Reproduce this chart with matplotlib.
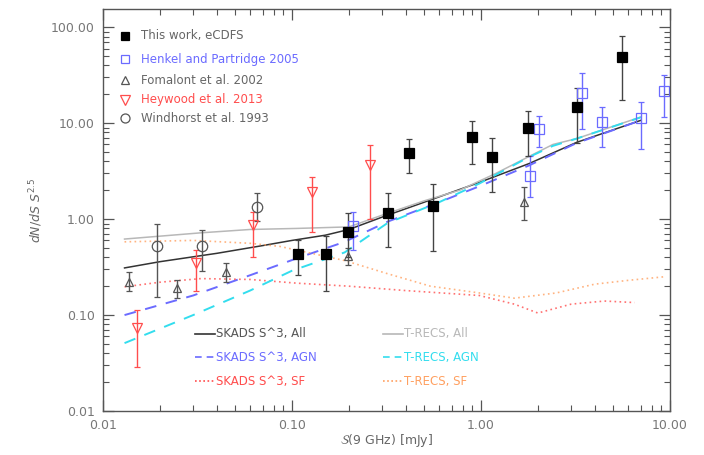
import numpy as np
import matplotlib
matplotlib.use("Agg")
import matplotlib.pyplot as plt
from matplotlib.ticker import FixedLocator, FuncFormatter, LogLocator, NullFormatter

# ---------------- data ----------------
# This work, eCDFS
tw_x = [0.107, 0.151, 0.199, 0.324, 0.416, 0.56, 0.90, 1.14, 1.78, 3.24, 5.6]
tw_y = [0.43, 0.43, 0.73, 1.17, 4.9, 1.38, 7.1, 4.46, 8.9, 14.6, 49.0]
tw_lo = [0.26, 0.178, 0.40, 0.51, 3.0, 0.46, 3.8, 1.9, 4.5, 6.2, 17.4]
tw_hi = [0.60, 0.66, 1.15, 1.87, 6.8, 2.3, 10.5, 7.0, 13.4, 23.0, 82.0]

# Henkel and Partridge 2005
hp_x = [0.21, 1.82, 2.03, 3.41, 4.38, 7.0, 9.3]
hp_y = [0.85, 2.8, 8.8, 20.4, 10.2, 11.2, 21.7]
hp_lo = [0.48, 1.7, 5.7, 8.7, 5.6, 5.4, 11.5]
hp_hi = [1.2, 4.5, 11.9, 33.0, 14.8, 16.7, 31.6]

# Fomalont et al. 2002
fo_x = [0.0138, 0.0245, 0.0448, 0.199, 1.69]
fo_y = [0.22, 0.19, 0.28, 0.41, 1.51]
fo_lo = [0.18, 0.15, 0.22, 0.33, 0.98]
fo_hi = [0.28, 0.23, 0.35, 0.50, 2.14]

# Heywood et al. 2013
hw_x = [0.0152, 0.031, 0.062, 0.128, 0.259]
hw_y = [0.073, 0.35, 0.87, 1.92, 3.65]
hw_lo = [0.029, 0.18, 0.40, 0.74, 1.0]
hw_hi = [0.113, 0.48, 1.2, 2.75, 5.9]

# Windhorst et al. 1993
wh_x = [0.0194, 0.0333, 0.065]
wh_y = [0.52, 0.52, 1.34]
wh_lo = [0.153, 0.29, 0.95]
wh_hi = [0.89, 0.77, 1.88]

# Models
sk_all_x = [0.013, 0.02, 0.04, 0.07, 0.1, 0.15, 0.2, 0.3, 0.5, 1.0, 1.8, 3.2, 7.0]
sk_all_y = [0.31, 0.36, 0.44, 0.53, 0.60, 0.68, 0.78, 1.05, 1.5, 2.45, 3.8, 6.3, 10.7]

sk_agn_x = [0.013, 0.03, 0.06, 0.106, 0.19, 0.32, 0.6, 0.98, 1.78, 3.2, 7.0]
sk_agn_y = [0.10, 0.16, 0.26, 0.39, 0.58, 0.94, 1.5, 2.2, 3.6, 6.2, 10.7]

sk_sf_x = [0.013, 0.02, 0.033, 0.06, 0.106, 0.2, 0.4, 0.98, 1.5, 2.0, 3.0, 4.5, 6.5]
sk_sf_y = [0.197, 0.22, 0.24, 0.235, 0.215, 0.20, 0.18, 0.16, 0.13, 0.105, 0.13, 0.14, 0.135]

tr_all_x = [0.013, 0.033, 0.06, 0.106, 0.2, 0.3, 0.5, 0.77, 1.2, 1.78, 2.4, 3.2, 7.0]
tr_all_y = [0.62, 0.72, 0.78, 0.80, 0.83, 1.1, 1.55, 2.0, 3.0, 4.46, 6.0, 6.9, 11.6]

tr_agn_x = [0.013, 0.03, 0.06, 0.1, 0.19, 0.32, 0.6, 0.98, 1.78, 2.4, 3.2, 7.0]
tr_agn_y = [0.051, 0.10, 0.18, 0.29, 0.45, 0.91, 1.5, 2.35, 4.4, 5.8, 6.9, 11.5]

tr_sf_x = [0.013, 0.03, 0.06, 0.086, 0.19, 0.32, 0.54, 0.98, 1.5, 2.5, 4.0, 6.0, 9.2]
tr_sf_y = [0.58, 0.60, 0.56, 0.52, 0.37, 0.27, 0.20, 0.17, 0.15, 0.17, 0.21, 0.23, 0.25]

xticks = [0.01, 0.1, 1.0, 10.0]
yticks = [0.01, 0.1, 1.0, 10.0, 100.0]

# ---------------- style ----------------
BLUE = '#6b6bff'
RED = '#ff4d4d'
GRAY = '#555555'
LGRAY = '#b8b8b8'
CYAN = '#33ddee'
ORANGE = '#ffa060'
TXT = '#666666'

plt.rcParams['font.family'] = ['DejaVu Sans']

fig = plt.figure(figsize=(7.04, 4.55), dpi=100)
ax = fig.add_axes([103/704, 1-411/455, (670-103)/704, (411-9)/455])
ax.set_xscale('log')
ax.set_yscale('log')
ax.set_xlim(0.01, 10)
ax.set_ylim(0.01, 155)

# model lines
ax.plot(sk_all_x, sk_all_y, color='#333333', lw=1.1, ls='-')
ax.plot(sk_agn_x, sk_agn_y, color=BLUE, lw=1.4, ls=(0, (6, 5)))
ax.plot(sk_sf_x, sk_sf_y, color=RED, lw=1.2, ls=(0, (1, 2)), alpha=0.8)
ax.plot(tr_all_x, tr_all_y, color=LGRAY, lw=1.1, ls='-')
ax.plot(tr_agn_x, tr_agn_y, color=CYAN, lw=1.4, ls=(0, (6, 5)))
ax.plot(tr_sf_x, tr_sf_y, color=ORANGE, lw=1.2, ls=(0, (1, 2)), alpha=0.8)

def eb(x, y, lo, hi, fmt, mc, ec, mfc, ms):
    x = np.array(x); y = np.array(y)
    yerr = [y - np.array(lo), np.array(hi) - y]
    return ax.errorbar(x, y, yerr=yerr, fmt=fmt, color=mc, ecolor=ec, mfc=mfc,
                       mec=mc, ms=ms, mew=0.9, elinewidth=1.0, capsize=2.5,
                       capthick=0.9)

eb(wh_x, wh_y, wh_lo, wh_hi, 'o', GRAY, GRAY, 'none', 7.5)
eb(fo_x, fo_y, fo_lo, fo_hi, '^', GRAY, GRAY, 'none', 6)
eb(hw_x, hw_y, hw_lo, hw_hi, 'v', RED, RED, 'none', 6.5)
eb(hp_x, hp_y, hp_lo, hp_hi, 's', BLUE, BLUE, 'none', 6.5)
eb(tw_x, tw_y, tw_lo, tw_hi, 's', 'black', '#444444', 'black', 6.5)

# top-left legend (markers + colored text)
leg_items = [('s', 'black', 'black', 'This work, eCDFS', TXT, 6),
             ('s', BLUE, 'none', 'Henkel and Partridge 2005', BLUE, 6),
             ('^', GRAY, 'none', 'Fomalont et al. 2002', TXT, 6),
             ('v', RED, 'none', 'Heywood et al. 2013', RED, 6.5),
             ('o', GRAY, 'none', 'Windhorst et al. 1993', TXT, 6.5)]
rows = [36, 59, 80, 100, 118]
for (m, c, fc, lab, tc, ms), yy in zip(leg_items, rows):
    fig.lines.append(plt.Line2D([125/704], [1-yy/455], marker=m, color=c,
                                mfc=fc, mec=c, ms=ms, mew=0.9, ls='none',
                                transform=fig.transFigure))
    fig.text(141/704, 1-yy/455, lab, color=tc, fontsize=8.5, va='center', ha='left')

# bottom legend
leg2 = [(195, 334, '#333333', '-', 'SKADS S^3, All', '#555555'),
        (195, 357, BLUE, (0, (4, 3)), 'SKADS S^3, AGN', BLUE),
        (195, 381, RED, (0, (1, 1.5)), 'SKADS S^3, SF', RED),
        (383, 334, LGRAY, '-', 'T-RECS, All', LGRAY),
        (383, 357, CYAN, (0, (4, 3)), 'T-RECS, AGN', CYAN),
        (383, 381, ORANGE, (0, (1, 1.5)), 'T-RECS, SF', ORANGE)]
for x0, yy, c, ls, lab, tc in leg2:
    fig.lines.append(plt.Line2D([x0/704, (x0+20)/704], [1-yy/455, 1-yy/455],
                                color=c, ls=ls, lw=1.2, transform=fig.transFigure))
    fig.text((x0+21)/704, 1-yy/455, lab, color=tc, fontsize=8.5, va='center', ha='left')

# axes styling
for s in ax.spines.values():
    s.set_color('#555555')
    s.set_linewidth(1.0)
ax.xaxis.set_major_locator(FixedLocator(xticks))
ax.yaxis.set_major_locator(FixedLocator(yticks))
ax.xaxis.set_minor_locator(LogLocator(base=10, subs=np.arange(2, 10)))
ax.yaxis.set_minor_locator(LogLocator(base=10, subs=np.arange(2, 10)))
fmt = FuncFormatter(lambda v, p: '%.2f' % v)
ax.xaxis.set_major_formatter(fmt)
ax.yaxis.set_major_formatter(fmt)
ax.xaxis.set_minor_formatter(NullFormatter())
ax.yaxis.set_minor_formatter(NullFormatter())
ax.tick_params(which='both', direction='in', top=True, right=True,
               colors='#555555', labelcolor='#777777', labelsize=9)
ax.tick_params(which='major', length=8, width=0.9, pad=6)
ax.tick_params(which='minor', length=4, width=0.8)

ax.set_xlabel(r'$\mathcal{S}$(9 GHz) [mJy]', color='#666666', fontsize=9, labelpad=0)
ax.set_ylabel(r'$dN/dS\ S^{2.5}$', color='#666666', fontsize=9, labelpad=1)
ax.yaxis.set_label_coords(-(103-45)/567, 0.5)

fig.savefig('out.png', dpi=100)
